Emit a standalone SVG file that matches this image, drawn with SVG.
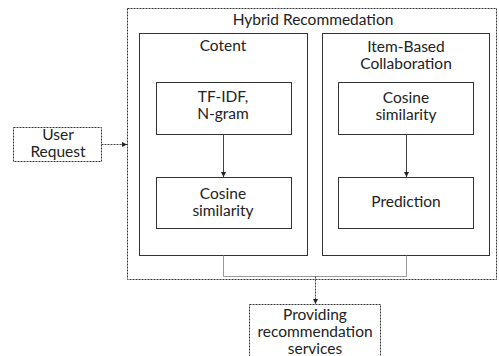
<svg xmlns="http://www.w3.org/2000/svg" width="499" height="356" viewBox="0 0 499 356">
<style>
text{font-family:Lato,"Noto Sans",sans-serif;font-size:15.5px;fill:#222;text-anchor:middle}
.box{fill:#fff;stroke:#333;stroke-width:1}
.dash{fill:#fff;stroke:#333;stroke-width:1;stroke-dasharray:2 1}
.arr{fill:none;stroke:#444;stroke-width:1}
.gray{fill:none;stroke:#999;stroke-width:1}
</style>
<defs>
<marker id="ah" markerWidth="6" markerHeight="6" refX="5" refY="3" orient="auto" markerUnits="userSpaceOnUse">
<path d="M0,0.5 L5,3 L0,5.5 Z" fill="#222"/>
</marker>
</defs>
<g id="hybrid">
<rect class="dash" x="127.5" y="8.5" width="369" height="271"/>
<text x="313" y="25">Hybrid Recommedation</text>
</g>
<g id="content">
<rect class="box" x="139.5" y="33.5" width="168" height="222"/>
<text x="223" y="51">Cotent</text>
</g>
<g id="itembased">
<rect class="box" x="322.5" y="33.5" width="167" height="222"/>
<text x="406" y="52">Item-Based</text>
<text x="406" y="69">Collaboration</text>
</g>
<g id="tfidf">
<rect class="box" x="156.5" y="82.5" width="135" height="52"/>
<text x="223" y="102">TF-IDF,</text>
<text x="223" y="119">N-gram</text>
</g>
<g id="cosine1">
<rect class="box" x="156.5" y="177.5" width="135" height="51"/>
<text x="223" y="199">Cosine</text>
<text x="223" y="216">similarity</text>
</g>
<g id="cosine2">
<rect class="box" x="338.5" y="82.5" width="135" height="52"/>
<text x="406" y="103">Cosine</text>
<text x="406" y="120">similarity</text>
</g>
<g id="prediction">
<rect class="box" x="338.5" y="177.5" width="135" height="51"/>
<text x="406" y="207">Prediction</text>
</g>
<g id="user">
<rect class="dash" x="13.5" y="127.5" width="88" height="34"/>
<text x="58" y="140">User</text>
<text x="58" y="157">Request</text>
</g>
<g id="providing">
<rect class="dash" x="249.5" y="304.5" width="131" height="60"/>
<text x="315" y="320">Providing</text>
<text x="315" y="337">recommendation</text>
<text x="315" y="354">services</text>
</g>
<g id="connectors">
<line class="arr" x1="223.5" y1="134.5" x2="223.5" y2="177" marker-end="url(#ah)"/>
<line class="arr" x1="406.5" y1="134.5" x2="406.5" y2="177" marker-end="url(#ah)"/>
<polyline class="gray" points="223.5,255.5 223.5,276.5 406.5,276.5 406.5,255.5"/>
<line class="arr" x1="315.5" y1="276.5" x2="315.5" y2="304" stroke-dasharray="2 1" marker-end="url(#ah)"/>
<line class="arr" x1="101.5" y1="144.5" x2="127" y2="144.5" stroke-dasharray="2 1" marker-end="url(#ah)"/>
</g>
</svg>
